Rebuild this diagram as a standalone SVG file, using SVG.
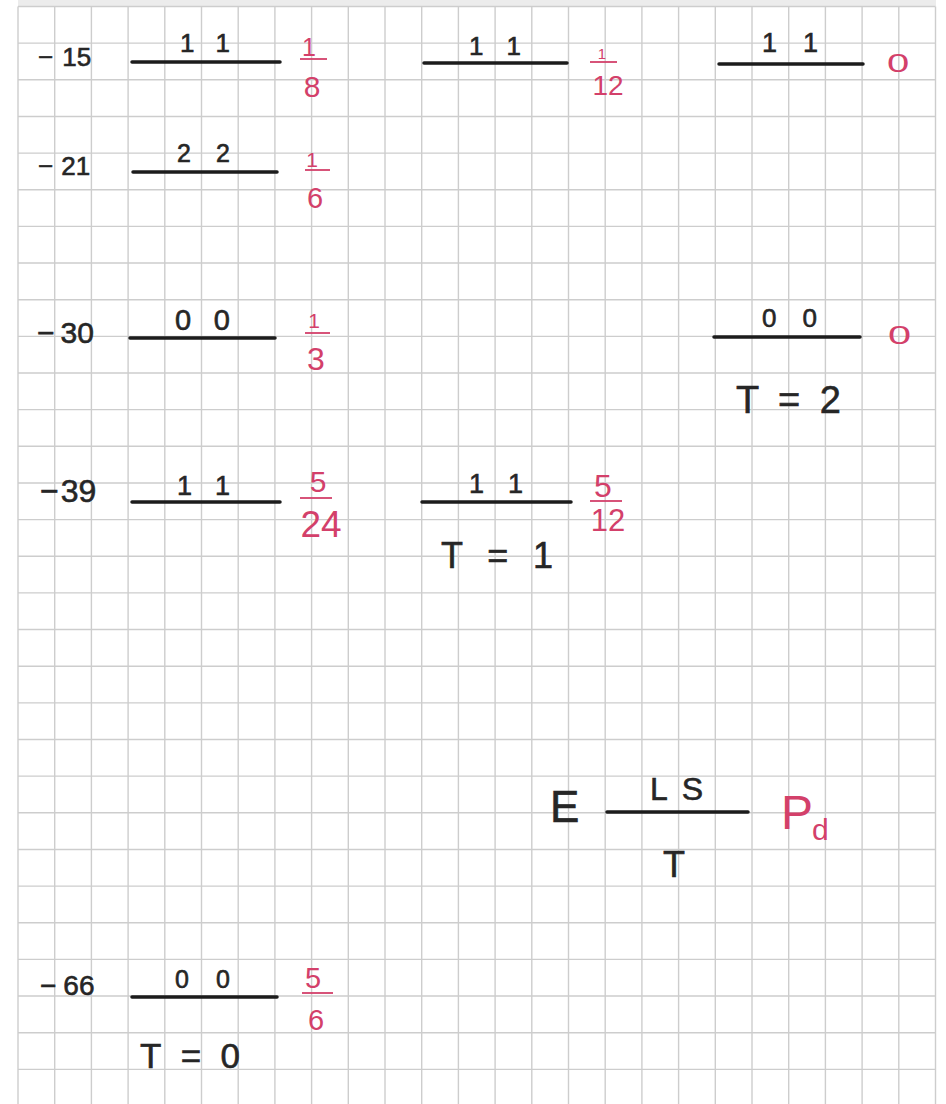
<svg xmlns="http://www.w3.org/2000/svg" width="946" height="1104" viewBox="0 0 946 1104">
<style>
.grid line{stroke:#cdcdcd;stroke-width:1.4}
.lvl{stroke:#1c1c1c;stroke-width:3.5;stroke-linecap:round}
.bk{fill:#262626;stroke:#262626;stroke-width:0.6;font-family:"Liberation Sans",Arial,sans-serif}
.rd{fill:#d3406a;font-family:"Liberation Sans",Arial,sans-serif;text-anchor:middle}
.rbar{stroke:#d3406a;stroke-width:1.8}
</style>
<rect width="946" height="1104" fill="#ffffff"/>
<rect x="18" y="0" width="918" height="6" fill="#ececec"/>
<g class="grid" id="grid">
<line x1="18" y1="6.5" x2="18" y2="1104"/><line x1="54.7" y1="6.5" x2="54.7" y2="1104"/><line x1="91.4" y1="6.5" x2="91.4" y2="1104"/><line x1="128.1" y1="6.5" x2="128.1" y2="1104"/><line x1="164.8" y1="6.5" x2="164.8" y2="1104"/><line x1="201.5" y1="6.5" x2="201.5" y2="1104"/><line x1="238.2" y1="6.5" x2="238.2" y2="1104"/><line x1="274.9" y1="6.5" x2="274.9" y2="1104"/><line x1="311.6" y1="6.5" x2="311.6" y2="1104"/><line x1="348.3" y1="6.5" x2="348.3" y2="1104"/><line x1="385" y1="6.5" x2="385" y2="1104"/><line x1="421.7" y1="6.5" x2="421.7" y2="1104"/><line x1="458.4" y1="6.5" x2="458.4" y2="1104"/><line x1="495.1" y1="6.5" x2="495.1" y2="1104"/><line x1="531.8" y1="6.5" x2="531.8" y2="1104"/><line x1="568.5" y1="6.5" x2="568.5" y2="1104"/><line x1="605.2" y1="6.5" x2="605.2" y2="1104"/><line x1="641.9" y1="6.5" x2="641.9" y2="1104"/><line x1="678.6" y1="6.5" x2="678.6" y2="1104"/><line x1="715.3" y1="6.5" x2="715.3" y2="1104"/><line x1="752" y1="6.5" x2="752" y2="1104"/><line x1="788.7" y1="6.5" x2="788.7" y2="1104"/><line x1="825.4" y1="6.5" x2="825.4" y2="1104"/><line x1="862.1" y1="6.5" x2="862.1" y2="1104"/><line x1="898.8" y1="6.5" x2="898.8" y2="1104"/><line x1="935.5" y1="6.5" x2="935.5" y2="1104"/>
<line x1="18" y1="6.5" x2="935.5" y2="6.5"/><line x1="18" y1="43.15" x2="935.5" y2="43.15"/><line x1="18" y1="79.8" x2="935.5" y2="79.8"/><line x1="18" y1="116.45" x2="935.5" y2="116.45"/><line x1="18" y1="153.1" x2="935.5" y2="153.1"/><line x1="18" y1="189.75" x2="935.5" y2="189.75"/><line x1="18" y1="226.4" x2="935.5" y2="226.4"/><line x1="18" y1="263.05" x2="935.5" y2="263.05"/><line x1="18" y1="299.7" x2="935.5" y2="299.7"/><line x1="18" y1="336.35" x2="935.5" y2="336.35"/><line x1="18" y1="373" x2="935.5" y2="373"/><line x1="18" y1="409.65" x2="935.5" y2="409.65"/><line x1="18" y1="446.3" x2="935.5" y2="446.3"/><line x1="18" y1="482.95" x2="935.5" y2="482.95"/><line x1="18" y1="519.6" x2="935.5" y2="519.6"/><line x1="18" y1="556.25" x2="935.5" y2="556.25"/><line x1="18" y1="592.9" x2="935.5" y2="592.9"/><line x1="18" y1="629.55" x2="935.5" y2="629.55"/><line x1="18" y1="666.2" x2="935.5" y2="666.2"/><line x1="18" y1="702.85" x2="935.5" y2="702.85"/><line x1="18" y1="739.5" x2="935.5" y2="739.5"/><line x1="18" y1="776.15" x2="935.5" y2="776.15"/><line x1="18" y1="812.8" x2="935.5" y2="812.8"/><line x1="18" y1="849.45" x2="935.5" y2="849.45"/><line x1="18" y1="886.1" x2="935.5" y2="886.1"/><line x1="18" y1="922.75" x2="935.5" y2="922.75"/><line x1="18" y1="959.4" x2="935.5" y2="959.4"/><line x1="18" y1="996.05" x2="935.5" y2="996.05"/><line x1="18" y1="1032.7" x2="935.5" y2="1032.7"/><line x1="18" y1="1069.35" x2="935.5" y2="1069.35"/>
</g>
<g id="connectors"/>

<g id="level-15-a">
<text class="bk" x="38" y="66" font-size="26">−<tspan dx="9">15</tspan></text>
<line class="lvl" x1="132" y1="62" x2="280" y2="62"/>
<text class="bk" x="180" y="52" font-size="26" textLength="50" lengthAdjust="spacing">1 1</text>
<text class="rd" x="309" y="56" font-size="25">1</text>
<line class="rbar" x1="300" y1="59" x2="327" y2="59"/>
<text class="rd" x="312" y="97" font-size="30">8</text>
</g>
<g id="level-15-b">
<line class="lvl" x1="424" y1="63" x2="567" y2="63"/>
<text class="bk" x="469" y="55" font-size="26" textLength="52" lengthAdjust="spacing">1 1</text>
<text class="rd" x="602" y="59" font-size="15">1</text>
<line class="rbar" x1="590" y1="62" x2="617" y2="62"/>
<text class="rd" x="608" y="95" font-size="28">12</text>
</g>
<g id="level-15-c">
<line class="lvl" x1="719" y1="64" x2="863" y2="64"/>
<text class="bk" x="762" y="52" font-size="27" textLength="56" lengthAdjust="spacing">1 1</text>
<text class="rd" x="0" y="0" font-size="25" transform="translate(898 72) scale(1.6 1)">0</text>
</g>
<g id="level-21">
<text class="bk" x="38" y="175" font-size="26">−<tspan dx="8">21</tspan></text>
<line class="lvl" x1="133" y1="172" x2="277" y2="172"/>
<text class="bk" x="177" y="162" font-size="25" textLength="53" lengthAdjust="spacing">2 2</text>
<text class="rd" x="312" y="167" font-size="21">1</text>
<line class="rbar" x1="305" y1="170" x2="330" y2="170"/>
<text class="rd" x="315" y="208" font-size="29">6</text>
</g>
<g id="level-30-a">
<text class="bk" x="37" y="343" font-size="30">−<tspan dx="6">30</tspan></text>
<line class="lvl" x1="130" y1="338" x2="275" y2="338"/>
<text class="bk" x="175" y="330" font-size="29" textLength="55" lengthAdjust="spacing">0 0</text>
<text class="rd" x="314" y="328" font-size="21">1</text>
<line class="rbar" x1="305" y1="333" x2="330" y2="333"/>
<text class="rd" x="316" y="370" font-size="32">3</text>
</g>
<g id="level-30-b">
<line class="lvl" x1="714" y1="337" x2="860" y2="337"/>
<text class="bk" x="762" y="327" font-size="26" textLength="55" lengthAdjust="spacing">0 0</text>
<text class="rd" x="0" y="0" font-size="26" transform="translate(899.5 344) scale(1.6 1)">0</text>
<text class="bk" x="736" y="413" font-size="38" textLength="105" lengthAdjust="spacing">T = 2</text>
</g>
<g id="level-39-a">
<text class="bk" x="40" y="502" font-size="32">−<tspan dx="2">39</tspan></text>
<line class="lvl" x1="132" y1="502" x2="280" y2="502"/>
<text class="bk" x="177" y="495" font-size="27" textLength="53" lengthAdjust="spacing">1 1</text>
<text class="rd" x="318" y="492" font-size="30">5</text>
<line class="rbar" x1="300" y1="498" x2="332" y2="498"/>
<text class="rd" x="321" y="537" font-size="37">24</text>
</g>
<g id="level-39-b">
<line class="lvl" x1="422" y1="502" x2="571" y2="502"/>
<text class="bk" x="469" y="493" font-size="27" textLength="54" lengthAdjust="spacing">1 1</text>
<text class="rd" x="603" y="497" font-size="32">5</text>
<line class="rbar" x1="590" y1="501" x2="622" y2="501"/>
<text class="rd" x="608" y="531" font-size="31">12</text>
<text class="bk" x="441" y="568" font-size="36" textLength="112" lengthAdjust="spacing">T = 1</text>
</g>
<g id="legend">
<text class="bk" x="550" y="822" font-size="44">E</text>
<line class="lvl" x1="607" y1="812" x2="748" y2="812"/>
<text class="bk" x="650" y="800" font-size="32" textLength="53" lengthAdjust="spacing">LS</text>
<text class="bk" x="674" y="877" font-size="36" text-anchor="middle">T</text>
<text x="781" y="829" font-size="48" fill="#d3406a" font-family="Liberation Sans,Arial,sans-serif">P<tspan x="812" y="840" font-size="30">d</tspan></text>
</g>
<g id="level-66">
<text class="bk" x="40" y="995" font-size="28">−<tspan dx="7">66</tspan></text>
<line class="lvl" x1="132" y1="997" x2="277" y2="997"/>
<text class="bk" x="175" y="988" font-size="25" textLength="55" lengthAdjust="spacing">0 0</text>
<text class="rd" x="313" y="988" font-size="29">5</text>
<line class="rbar" x1="302" y1="993" x2="333" y2="993"/>
<text class="rd" x="316" y="1030" font-size="29">6</text>
<text class="bk" x="140" y="1068" font-size="35" textLength="100" lengthAdjust="spacing">T=0</text>
</g>
</svg>
